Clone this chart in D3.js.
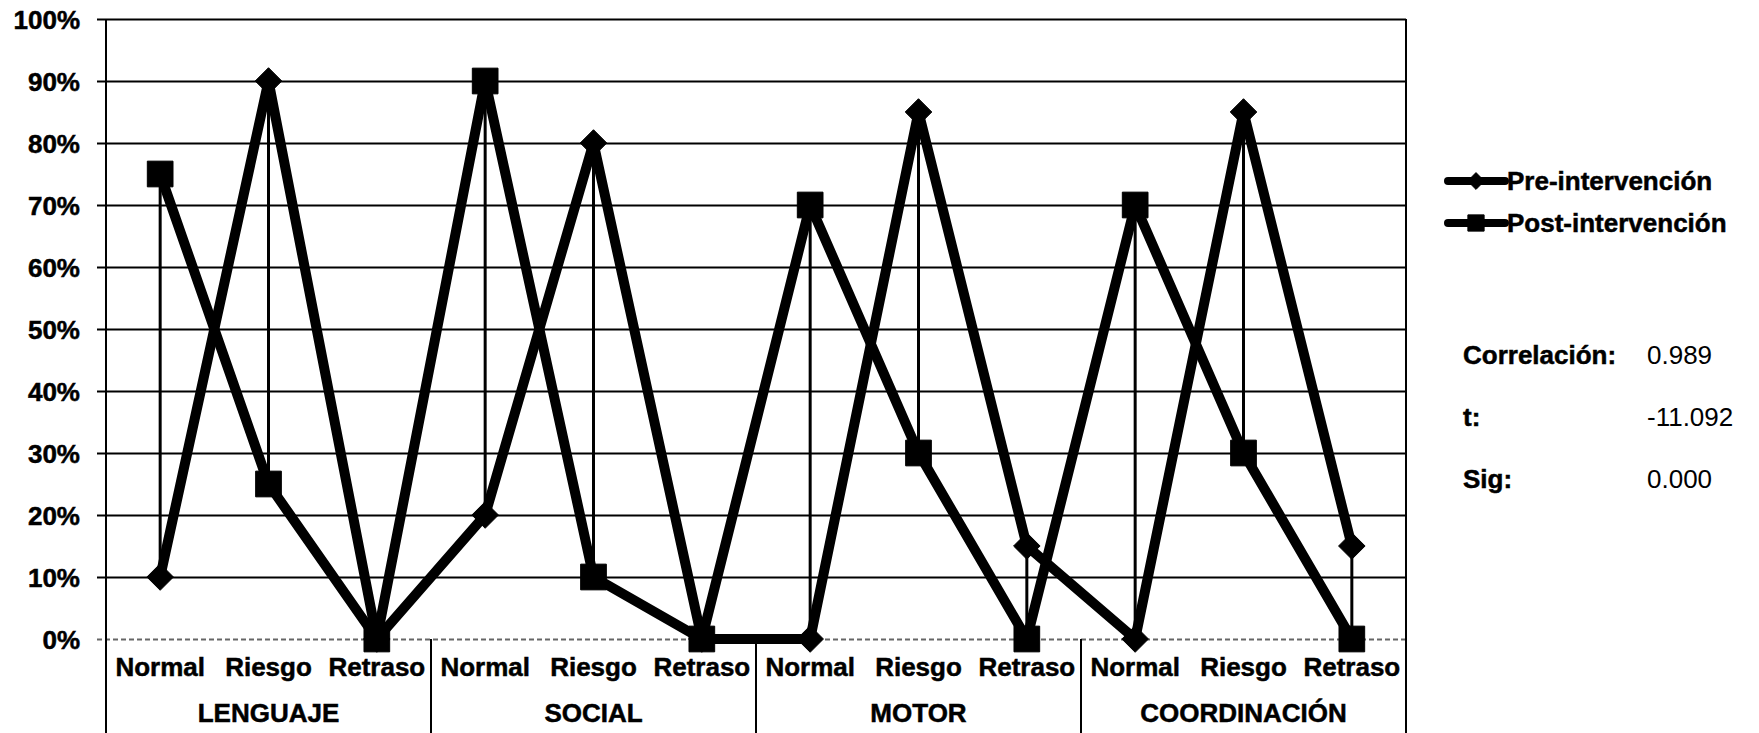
<!DOCTYPE html>
<html>
<head>
<meta charset="utf-8">
<script src="https://cdn.jsdelivr.net/npm/d3@7"></script>
<style>
  body { margin: 0; background: #fff; }
  text { font-family: "Liberation Sans", Arial, sans-serif; fill: #000; }
  text.heavy { font-weight: bold; stroke: #000; stroke-width: 0.5; }
</style>
</head>
<body>
<div id="chart"></div>
<script>
const GROUPS = ['LENGUAJE', 'SOCIAL', 'MOTOR', 'COORDINACIÓN'];
const LEVELS = ['Normal', 'Riesgo', 'Retraso'];
const PRE = [0.10, 0.90, 0.00, 0.20, 0.80, 0.00, 0.00, 0.85, 0.15, 0.00, 0.85, 0.15];
const POST = [0.75, 0.25, 0.00, 0.90, 0.10, 0.00, 0.70, 0.30, 0.00, 0.70, 0.30, 0.00];
const Y_TICKS = [0, 0.1, 0.2, 0.3, 0.4, 0.5, 0.6, 0.7, 0.8, 0.9, 1.0];
const SERIES_NAMES = ['Pre-intervención', 'Post-intervención'];
const STATS = [['Correlación:', '0.989'], ['t:', '-11.092'], ['Sig:', '0.000']];

const WIDTH = 1759, HEIGHT = 733;
const MARGIN_LEFT = 106, PLOT_RIGHT = 1406;
const MARGIN_TOP = 19, PLOT_BOTTOM = 639;

const cats = [];
GROUPS.forEach(g => LEVELS.forEach(l => cats.push(g + '|' + l)));

const svg = d3.select('#chart').append('svg')
    .attr('width', WIDTH)
    .attr('height', HEIGHT);

const x = d3.scaleBand()
    .domain(cats)
    .range([MARGIN_LEFT, PLOT_RIGHT]);

const y = d3.scaleLinear()
    .domain([0, 1])
    .range([PLOT_BOTTOM, MARGIN_TOP]);

const cx = i => x(cats[i]) + x.bandwidth() / 2;

// gridlines + y axis
const yAxis = d3.axisLeft(y)
    .tickValues(Y_TICKS)
    .tickSize(-(PLOT_RIGHT - MARGIN_LEFT))
    .tickFormat(d3.format('.0%'))
    .tickPadding(26);

const yg = svg.append('g')
    .attr('transform', `translate(${MARGIN_LEFT}, 0)`)
    .call(yAxis);
yg.select('.domain').remove();
yg.selectAll('.tick line')
    .attr('x1', -9)
    .attr('stroke', '#000')
    .attr('stroke-width', 2);
yg.selectAll('.tick')
    .filter(d => d === 0)
    .select('line')
    .attr('stroke', '#666')
    .attr('stroke-dasharray', '5,3');
yg.selectAll('.tick text')
    .attr('class', 'heavy')
    .attr('font-size', 26)
    .attr('dy', '0.36em');

// plot borders
svg.append('line')
    .attr('x1', MARGIN_LEFT).attr('x2', MARGIN_LEFT)
    .attr('y1', MARGIN_TOP).attr('y2', HEIGHT)
    .attr('stroke', '#000').attr('stroke-width', 2);
svg.append('line')
    .attr('x1', PLOT_RIGHT).attr('x2', PLOT_RIGHT)
    .attr('y1', MARGIN_TOP).attr('y2', HEIGHT)
    .attr('stroke', '#000').attr('stroke-width', 2);

// group separators under the axis
GROUPS.forEach((g, gi) => {
    if (gi === 0) return;
    const xs = x(g + '|' + LEVELS[0]);
    svg.append('line')
        .attr('x1', xs).attr('x2', xs)
        .attr('y1', PLOT_BOTTOM).attr('y2', HEIGHT)
        .attr('stroke', '#000').attr('stroke-width', 2);
});

// category labels
svg.append('g').selectAll('text')
    .data(cats)
    .enter().append('text')
    .attr('class', 'heavy')
    .attr('x', d => x(d) + x.bandwidth() / 2)
    .attr('y', 676)
    .attr('text-anchor', 'middle')
    .attr('font-size', 26)
    .text(d => d.split('|')[1]);

svg.append('g').selectAll('text')
    .data(GROUPS)
    .enter().append('text')
    .attr('class', 'heavy')
    .attr('x', g => x(g + '|' + LEVELS[1]) + x.bandwidth() / 2)
    .attr('y', 722)
    .attr('text-anchor', 'middle')
    .attr('font-size', 26)
    .text(g => g);

// high-low lines
svg.append('g').selectAll('line')
    .data(PRE)
    .enter().append('line')
    .attr('x1', (d, i) => cx(i)).attr('x2', (d, i) => cx(i))
    .attr('y1', d => y(d))
    .attr('y2', (d, i) => y(POST[i]))
    .attr('stroke', '#000')
    .attr('stroke-width', 3);

const line = d3.line()
    .x((d, i) => cx(i))
    .y(d => y(d));

[PRE, POST].forEach(vals => {
    svg.append('path')
        .datum(vals)
        .attr('d', line)
        .attr('fill', 'none')
        .attr('stroke', '#000')
        .attr('stroke-width', 10)
        .attr('stroke-linejoin', 'round');
});

function drawMarker(sel, kind, px, py, scale) {
    const sym = kind === 0
        ? d3.symbol().type(d3.symbolDiamond2).size(450 * scale)
        : d3.symbol().type(d3.symbolSquare).size(660 * scale);
    sel.append('path')
        .attr('d', sym())
        .attr('transform', `translate(${px}, ${py})`)
        .attr('fill', '#000')
        .attr('stroke', '#000')
        .attr('stroke-width', 1);
}

const markers = svg.append('g');
PRE.forEach((v, i) => drawMarker(markers, 0, cx(i), y(v), 1));
POST.forEach((v, i) => drawMarker(markers, 1, cx(i), y(v), 1));

// legend
const legend = svg.append('g');
SERIES_NAMES.forEach((name, i) => {
    const ly = 181 + i * 42;
    legend.append('line')
        .attr('x1', 1448).attr('x2', 1505)
        .attr('y1', ly).attr('y2', ly)
        .attr('stroke', '#000')
        .attr('stroke-width', 8)
        .attr('stroke-linecap', 'round');
    drawMarker(legend, i, 1476, ly, 0.4);
    legend.append('text')
        .attr('class', 'heavy')
        .attr('x', 1507)
        .attr('y', ly + 9)
        .attr('font-size', 26)
        .text(name);
});

// stats
STATS.forEach((s, i) => {
    const sy = 364 + i * 62;
    svg.append('text')
        .attr('class', 'heavy')
        .attr('x', 1463)
        .attr('y', sy)
        .attr('font-size', 26)
        .text(s[0]);
    svg.append('text')
        .attr('x', 1647)
        .attr('y', sy)
        .attr('font-size', 26)
        .text(s[1]);
});
</script>
</body>
</html>
